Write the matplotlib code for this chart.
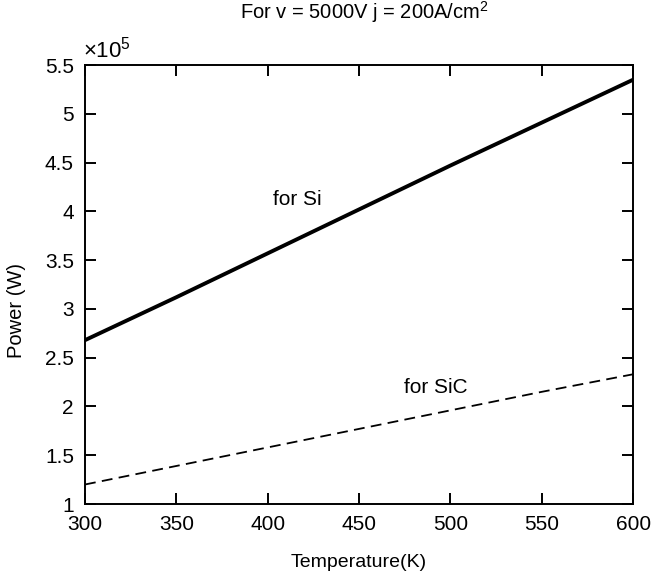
import matplotlib.pyplot as plt
from matplotlib.ticker import FuncFormatter

plt.rcParams['font.family'] = ['Liberation Sans', 'DejaVu Sans']
plt.rcParams['mathtext.fontset'] = 'custom'
plt.rcParams['mathtext.rm'] = 'Liberation Sans'

# temperature (K) and power (W)
temperature = [300, 350, 400, 450, 500, 550, 600]
power_si = [2.68e5, 3.12e5, 3.57e5, 4.02e5, 4.47e5, 4.91e5, 5.35e5]
power_sic = [1.20e5, 1.39e5, 1.58e5, 1.77e5, 1.96e5, 2.15e5, 2.33e5]

fig = plt.figure(figsize=(6.54, 5.76), dpi=100)
ax = fig.add_axes([0.130, 0.125, 0.838, 0.762])

ax.plot(temperature, power_si, color='black', linewidth=2.8)
ax.plot(temperature, power_sic, color='black', linewidth=1.3, linestyle=(0, (6, 3.5)))

ax.text(416, 4.12e5, 'for Si', fontsize=15, ha='center', va='center')
ax.text(492, 2.19e5, 'for SiC', fontsize=15, ha='center', va='center')

ax.set_xlim(300, 600)
ax.set_ylim(1e5, 5.5e5)
ax.set_xticks([300, 350, 400, 450, 500, 550, 600])
ax.set_yticks([1e5, 1.5e5, 2e5, 2.5e5, 3e5, 3.5e5, 4e5, 4.5e5, 5e5, 5.5e5])
ax.yaxis.set_major_formatter(FuncFormatter(lambda v, p: '%g' % (v / 1e5)))

ax.tick_params(direction='in', length=8, width=1.4, top=True, right=True,
               labelsize=15, pad=8)
for s in ax.spines.values():
    s.set_linewidth(1.4)

ax.text(-0.004, 1.005, r'$\times10^5$', transform=ax.transAxes, fontsize=16,
        ha='left', va='bottom')

ax.set_title(r'For v = 5000V j = 200A/cm$^{2}$', fontsize=14.5, pad=33, x=0.51)
ax.set_xlabel('Temperature(K)', fontsize=14, labelpad=14)
ax.set_ylabel('Power (W)', fontsize=14.5)
ax.yaxis.set_label_coords(-0.108, 0.44)

fig.savefig('out.png', dpi=100)
